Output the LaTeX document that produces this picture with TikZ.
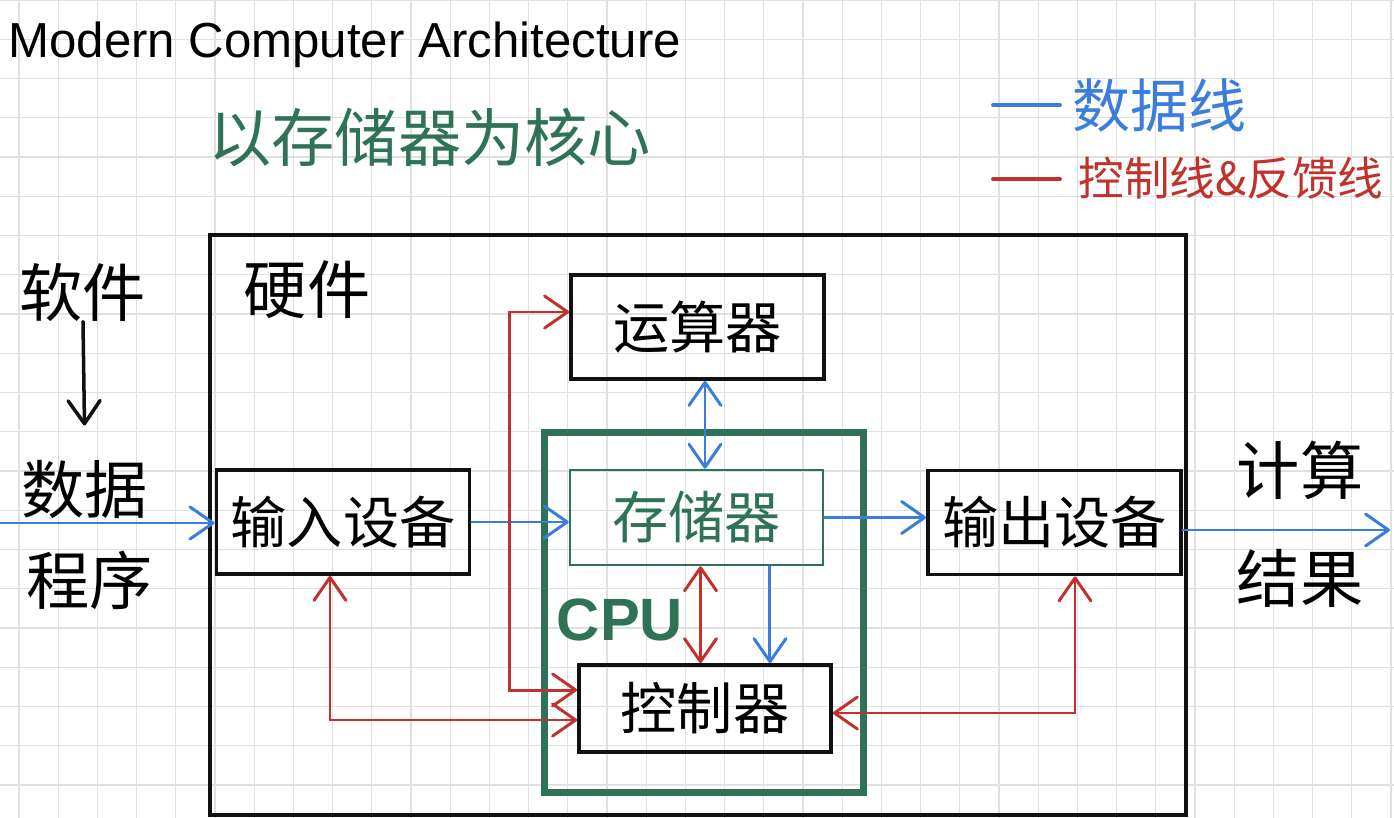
\documentclass[tikz,border=0pt]{standalone}
\usepackage{fontspec}
\setmainfont{Liberation Sans}
\newfontfamily\cjk{Noto Sans CJK SC}
\usetikzlibrary{arrows.meta,positioning,calc}
\definecolor{penInk}{HTML}{111111}
\definecolor{dataBlue}{HTML}{3B7DDD}
\definecolor{ctlRed}{HTML}{C0322B}
\definecolor{coreGreen}{HTML}{2F7357}
\definecolor{gridGray}{HTML}{E0E0E0}

\begin{document}
\begin{tikzpicture}[
  x=0.02cm, y=-0.02cm,
  >={Straight Barb[length=4.6mm,width=6.4mm,round]},
  unit/.style={
    draw=penInk, line width=2.2pt, inner sep=0pt,
    minimum width=5.06cm, minimum height=2.08cm,
    font=\cjk\fontsize{32}{36}\selectfont
  },
  frame/.style={draw=penInk, line width=2.2pt, inner sep=0pt},
  data/.style={draw=dataBlue, line width=1.7pt, line cap=round},
  ctl/.style={draw=ctlRed, line width=1.7pt, line cap=round},
  pen/.style={draw=penInk, line width=2pt, line cap=round},
  side/.style={font=\cjk\fontsize{36}{40}\selectfont, inner sep=0pt},
  legend/.style={inner sep=0pt, anchor=west},
  gridline/.style={draw=gridGray, line width=0.7pt}
]

% Paper with grid
\fill[white] (0,0) rectangle (1394,818);
\useasboundingbox (0,0) rectangle (1394,818);
\foreach \gx in {0,...,35}
  \draw[gridline] ({19+39.2*\gx},0) -- ({19+39.2*\gx},818);
\foreach \gy in {0,...,20}
  \draw[gridline] (0,{39.25*\gy}) -- (1394,{39.25*\gy});

% Headings
\node[inner sep=0pt, anchor=west, font=\fontsize{28}{32}\selectfont] (title) at (8,45) {Modern Computer Architecture};
\node[inner sep=0pt, anchor=west, text=coreGreen, font=\cjk\fontsize{36}{40}\selectfont] (motto) at (208,138) {以存储器为核心};

% Legend
\node[legend, text=dataBlue, font=\cjk\fontsize{33}{36}\selectfont] (keydata) at (1072,105) {数据线};
\node[legend, text=ctlRed, font=\cjk\fontsize{26}{30}\selectfont] (keyctl) at (1078,178) {控制线\&反馈线};
\draw[data, line width=2.2pt] ([xshift=-0.24cm]keydata.west) -- ++(-67,0);
\draw[ctl, line width=2.2pt] ([xshift=-0.36cm,yshift=-0.02cm]keyctl.west) -- ++(-67,0);

% Hardware frame and CPU
\node[frame, minimum width=19.52cm, minimum height=11.6cm] (hw) at (698,525) {};
\node[draw=coreGreen, line width=4pt, inner sep=0pt, minimum width=6.4cm, minimum height=7.22cm] (cpu) at (704,612.5) {};
\node[side] (hwtag) at (307,290) {硬件};
\node[inner sep=0pt, text=coreGreen, font=\bfseries\fontsize{34}{38}\selectfont] (cputag) at (620,620) {CPU};

% Units
\node[unit] (alu) at (697.5,327) {运算器};
\node[unit, draw=coreGreen, line width=1.5pt, text=coreGreen, minimum height=1.9cm] (mem) at (696.5,517.5) {存储器};
\node[unit, minimum width=5.04cm, minimum height=1.74cm] (ctrl) at (705,708.5) {控制器};
\node[unit] (in) at (343,522) {输入设备};
\node[unit] (out) at (1054.5,522.5) {输出设备};

% Software side and result
\node[side] (soft) at (83,292) {软件};
\node[side] (data) at (85,490) {数据};
\node[side] (prog) at (90,580) {程序};
\node[side] (calc) at (1300,470) {计算};
\node[side] (res) at (1300,578) {结果};
\draw[pen, ->, shorten >=0.7cm] (soft.south) -- (data.north);

% Data lines
\coordinate (srcL) at (0,523);
\coordinate (resR) at (1390,530);
\draw[data, ->] (srcL) -- (srcL -| in.west);
\draw[data, ->] (in.east) -- (in.east -| mem.west);
\draw[data, ->] (mem.east) -- (mem.east -| out.west);
\draw[data, ->] (out.east |- resR) -- (resR);
\draw[data, <->] ([xshift=0.15cm]alu.south) -- ([xshift=0.15cm]alu.south |- mem.north);
\draw[data, ->] ([xshift=1.47cm]mem.south) -- ([xshift=1.47cm]mem.south |- ctrl.north);

% Control and feedback lines
\draw[ctl, <->] ([xshift=0.08cm]mem.south) -- ([xshift=0.08cm]mem.south |- ctrl.north);
\draw[ctl, <->] ([yshift=0.3cm]alu.west) -- ++(-60,0) |- ([yshift=0.37cm]ctrl.west);
\draw[ctl, <->] ([xshift=-0.26cm]in.south) |- ([yshift=-0.23cm]ctrl.west);
\draw[ctl, <->] ([yshift=-0.09cm]ctrl.east) -| ([xshift=0.41cm]out.south);

\end{tikzpicture}
\end{document}
